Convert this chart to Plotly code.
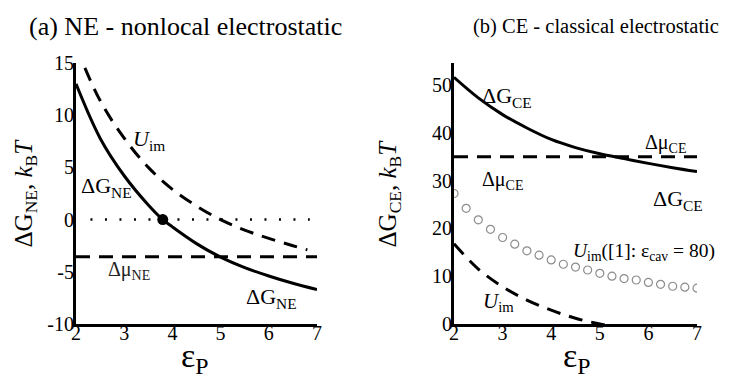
import plotly.graph_objects as go

FONT = "Liberation Serif, Times New Roman, serif"

# --- data ---
eps = [2.0, 2.5, 3.0, 3.5, 4.0, 4.5, 5.0, 5.5, 6.0, 6.5, 7.0]

# (a) nonlocal electrostatic
ne_u_eps = [2.0, 2.5, 3.0, 3.5, 4.0, 4.5, 5.0, 5.5, 6.0, 6.5, 6.8]
ne_u_im = [16.6, 11.4, 7.8, 5.0, 2.9, 1.3, 0.0, -1.0, -1.8, -2.5, -2.9]
ne_dg_eps = [2.0, 2.5, 3.0, 3.5, 3.8, 4.0, 4.5, 5.0, 5.5, 6.0, 6.5, 7.0]
ne_dg = [13.0, 7.8, 4.2, 1.4, 0.0, -0.7, -2.3, -3.6, -4.6, -5.4, -6.1, -6.7]
ne_dmu = -3.55
ne_zero_eps = [2.3, 6.85]
ne_cross = [3.8, 0.0]

# (b) classical electrostatic
ce_dg = [51.6, 47.3, 43.8, 41.0, 38.6, 36.9, 35.6, 34.6, 33.6, 32.7, 31.9]
ce_u_eps = [2.0, 2.5, 3.0, 3.5, 4.0, 4.5, 5.0, 5.5]
ce_u_im = [16.8, 11.5, 7.8, 5.0, 2.9, 1.2, 0.0, -1.0]
ce_dmu = 35.0
ref_eps = [2.0, 2.25, 2.5, 2.75, 3.0, 3.25, 3.5, 3.75, 4.0, 4.25, 4.5,
           4.75, 5.0, 5.25, 5.5, 5.75, 6.0, 6.25, 6.5, 6.75, 7.0]
ref_u_im = [27.3, 24.2, 21.8, 19.8, 18.1, 16.7, 15.3, 14.4, 13.4, 12.5, 11.9,
            11.3, 10.6, 10.0, 9.5, 9.2, 8.7, 8.3, 7.9, 7.7, 7.5]

x_ticks = [2, 3, 4, 5, 6, 7]
ne_y_ticks = [-10, -5, 0, 5, 10, 15]
ne_y_labels = ["-10", "-5", "0", "5", "10", "15"]
ce_y_ticks = [0, 10, 20, 30, 40, 50]

# the page body adds an 8px margin, so the figure is 8px smaller than the window
W, H = 722, 375
fig = go.Figure()

solid = dict(color="black", width=3)
dashed = dict(color="black", width=3, dash="14px,9px")

# --- panel (a) ---
fig.add_trace(go.Scatter(x=ne_zero_eps, y=[0, 0], mode="lines",
                         line=dict(color="black", width=2.5, dash="2px,12.5px"),
                         xaxis="x", yaxis="y"))
fig.add_trace(go.Scatter(x=ne_u_eps, y=ne_u_im, mode="lines", line=dashed,
                         line_shape="spline", xaxis="x", yaxis="y"))
fig.add_trace(go.Scatter(x=[eps[0], eps[-1]], y=[ne_dmu, ne_dmu], mode="lines",
                         line=dashed, xaxis="x", yaxis="y"))
fig.add_trace(go.Scatter(x=ne_dg_eps, y=ne_dg, mode="lines", line=solid,
                         line_shape="spline", xaxis="x", yaxis="y"))
fig.add_trace(go.Scatter(x=[ne_cross[0]], y=[ne_cross[1]], mode="markers",
                         marker=dict(color="black", size=11),
                         xaxis="x", yaxis="y"))

# --- panel (b) ---
fig.add_trace(go.Scatter(x=ref_eps, y=ref_u_im, mode="markers",
                         marker=dict(symbol="circle-open", size=8,
                                     color="#8c8c8c", line=dict(width=1.2)),
                         xaxis="x2", yaxis="y2"))
fig.add_trace(go.Scatter(x=ce_u_eps, y=ce_u_im, mode="lines", line=dashed,
                         line_shape="spline", xaxis="x2", yaxis="y2"))
fig.add_trace(go.Scatter(x=[eps[0], eps[-1]], y=[ce_dmu, ce_dmu], mode="lines",
                         line=dashed, xaxis="x2", yaxis="y2"))
fig.add_trace(go.Scatter(x=eps, y=ce_dg, mode="lines", line=solid,
                         line_shape="spline", xaxis="x2", yaxis="y2"))

# --- axes ---
yd = [59 / H, 320 / H]
axis_common = dict(showline=True, linecolor="black", linewidth=3,
                   showgrid=False, zeroline=False, ticks="", automargin=False,
                   tickfont=dict(family=FONT, size=20, color="black"))
fig.update_layout(
    font=dict(family=FONT, color="black"),
    xaxis=dict(domain=[68 / W, 309 / W], range=[2, 7], tickvals=x_ticks,
               anchor="y", ticklabelstandoff=-11, **axis_common),
    yaxis=dict(domain=yd, range=[-10, 15], tickvals=ne_y_ticks,
               ticktext=ne_y_labels, anchor="x", ticklabelstandoff=-5,
               **axis_common),
    xaxis2=dict(domain=[446 / W, 689 / W], range=[2, 7], tickvals=x_ticks,
                anchor="y2", ticklabelstandoff=-11, **axis_common),
    yaxis2=dict(domain=yd, range=[0, 54.6], tickvals=ce_y_ticks,
                anchor="x2", ticklabelstandoff=-5, **axis_common),
)

# --- text ---
def txt(text, x, y, size, xref="x", yref="y", xanchor="left", yanchor="middle",
        angle=0, color="black"):
    fig.add_annotation(text=text, x=x, y=y, xref=xref, yref=yref,
                       xanchor=xanchor, yanchor=yanchor, textangle=angle,
                       showarrow=False, font=dict(family=FONT, size=size, color=color))

txt("(a) NE - nonlocal electrostatic", 177.5 / W, 1 - 19 / H, 26,
    xref="paper", yref="paper", xanchor="center")
txt("(b) CE - classical electrostatic", 713 / W, 1 - 19 / H, 20.5,
    xref="paper", yref="paper", xanchor="right")

txt("ΔG<sub>NE</sub>, <i>k</i><sub>B</sub><i>T</i>", 17 / W, 0.5 * (yd[0] + yd[1]),
    25, xref="paper", yref="paper", xanchor="center", angle=-90)
txt("ΔG<sub>CE</sub>, <i>k</i><sub>B</sub><i>T</i>", 381 / W, 0.5 * (yd[0] + yd[1]),
    25, xref="paper", yref="paper", xanchor="center", angle=-90)
txt("ε<sub>P</sub>", 187 / W, 1 - 350 / H, 34, xref="paper", yref="paper",
    xanchor="center")
txt("ε<sub>P</sub>", 569 / W, 1 - 350 / H, 34, xref="paper", yref="paper",
    xanchor="center")

txt("<i>U</i><sub>im</sub>", 3.15, 7.6, 22)
txt("ΔG<sub>NE</sub>", 2.06, 3.1, 22)
txt("Δμ<sub>NE</sub>", 2.62, -4.9, 20, color="#222")
txt("ΔG<sub>NE</sub>", 5.48, -7.5, 22)

txt("ΔG<sub>CE</sub>", 2.53, 47.5, 22, xref="x2", yref="y2")
txt("Δμ<sub>CE</sub>", 5.88, 37.8, 20, xref="x2", yref="y2")
txt("Δμ<sub>CE</sub>", 2.53, 30.0, 20, xref="x2", yref="y2")
txt("ΔG<sub>CE</sub>", 6.05, 26.0, 22, xref="x2", yref="y2")
txt("<i>U</i><sub>im</sub>([1]: ε<sub>cav</sub> = 80)", 4.4, 15.0, 19.5,
    xref="x2", yref="y2")
txt("<i>U</i><sub>im</sub>", 2.55, 4.5, 21, xref="x2", yref="y2")

fig.update_layout(width=W, height=H, showlegend=False,
                  margin=dict(l=0, r=0, t=0, b=0, autoexpand=False),
                  paper_bgcolor="white", plot_bgcolor="white")

fig.write_html("out.html")
